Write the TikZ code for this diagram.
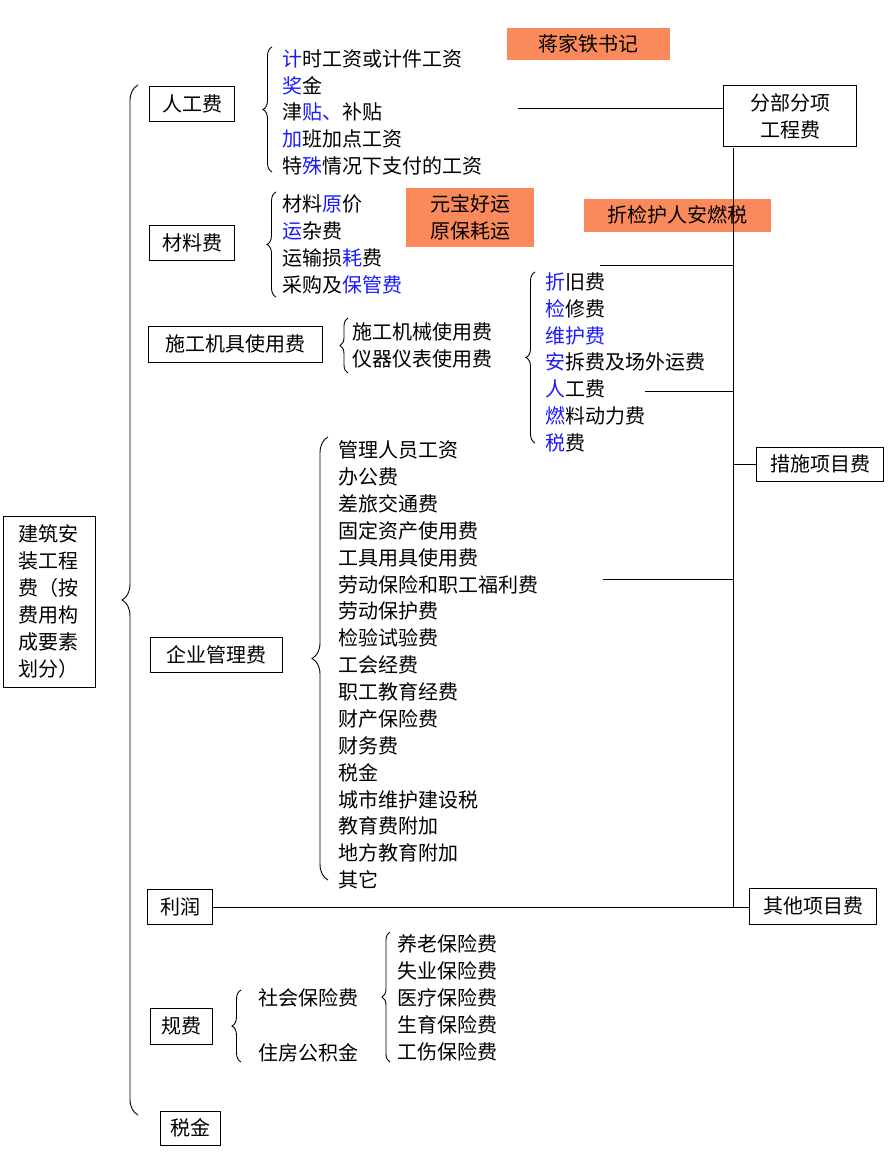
\documentclass[tikz,border=0pt]{standalone}
\usepackage{fontspec}
\setmainfont{Noto Sans CJK SC}
\usetikzlibrary{decorations.pathreplacing}
\definecolor{org}{HTML}{FA8A5C}
\definecolor{bl}{HTML}{1A1AFF}
\newcommand{\B}[1]{\textcolor{bl}{#1}}
\tikzset{
 box/.style={draw,line width=0.9pt,inner sep=3pt,font=\fontsize{20}{25}\selectfont,align=center},
 obox/.style={fill=org,inner sep=3pt,font=\fontsize{20}{25}\selectfont,align=center},
 item/.style={anchor=west,inner sep=0pt,font=\fontsize{20}{24}\selectfont},
 brc/.style={decorate,decoration={brace,amplitude=#1},line width=0.9pt},
 ln/.style={line width=0.9pt}
}
\begin{document}
\begin{tikzpicture}[x=1pt,y=-1pt]
\useasboundingbox (0,0) rectangle (891,1154);
% root
\node[box,minimum width=92,minimum height=171,font=\fontsize{20}{27}\selectfont] (root) at (49,602) {建筑安\\装工程\\费（按\\费用构\\成要素\\划分）};
\draw[brc=16] (138,1115) -- (138,85);
% level 1
\node[box,minimum width=85,minimum height=35] (rg) at (192,104) {人工费};
\node[box,minimum width=85,minimum height=35] (cl) at (192,243) {材料费};
\node[box,minimum width=174,minimum height=36] (jj) at (235,344) {施工机具使用费};
\node[box,minimum width=132,minimum height=35] (qy) at (216,655) {企业管理费};
\node[box,minimum width=65,minimum height=35] (lr) at (180,907) {利润};
\node[box,minimum width=62,minimum height=36] (gf) at (181,1026) {规费};
\node[box,minimum width=60,minimum height=34] (sj) at (190,1128) {税金};
% 人工费
\draw[brc=9] (272,172) -- (272,47);
\foreach \t [count=\i from 0] in {\B{计}时工资或计件工资,\B{奖}金,津\B{贴、}补贴,\B{加}班加点工资,特\B{殊}情况下支付的工资}
  \node[item] (rg\i) at (282,{59+26.7*\i}) {\t};
% 材料费
\draw[brc=9] (276,297) -- (276,192);
\foreach \t [count=\i from 0] in {材料\B{原}价,\B{运}杂费,运输损\B{耗}费,采购及\B{保管费}}
  \node[item] (cl\i) at (282,{204+27*\i}) {\t};
% 施工机具
\draw[brc=8] (348,373) -- (348,318);
\node[item] (jj0) at (352,332) {施工机械使用费};
\node[item] (jj1) at (352,359) {仪器仪表使用费};
\draw[brc=9] (535,443) -- (535,272);
\foreach \t [count=\i from 0] in {\B{折}旧费,\B{检}修费,\B{维护费},\B{安}拆费及场外运费,\B{人}工费,\B{燃}料动力费,\B{税}费}
  \node[item] (sb\i) at (545,{282+26.8*\i}) {\t};
% 企业管理费
\draw[brc=16] (328,880) -- (328,437);
\foreach \t [count=\i from 0] in {管理人员工资,办公费,差旅交通费,固定资产使用费,工具用具使用费,劳动保险和职工福利费,劳动保护费,检验试验费,工会经费,职工教育经费,财产保险费,财务费,税金,城市维护建设税,教育费附加,地方教育附加,其它}
  \node[item] (qy\i) at (338,{450+26.875*\i}) {\t};
% 规费
\draw[brc=9] (241,1062) -- (241,990);
\node[item] (sb) at (258,998) {社会保险费};
\node[item] (zf) at (258,1053) {住房公积金};
\draw[brc=8] (390,1062) -- (390,932);
\foreach \t [count=\i from 0] in {养老保险费,失业保险费,医疗保险费,生育保险费,工伤保险费}
  \node[item] (bx\i) at (397,{944+27*\i}) {\t};
% orange notes
\node[obox,minimum width=163,minimum height=32] (n1) at (588,44) {蒋家铁书记};
\node[obox,minimum width=128,minimum height=59,font=\fontsize{20}{27}\selectfont] (n2) at (470,217) {元宝好运\\原保耗运};
\node[obox,minimum width=187,minimum height=33] (n3) at (677,215) {折检护人安燃税};
% right boxes
\node[box,minimum width=133,minimum height=61,font=\fontsize{20}{27}\selectfont] (fb) at (790,116) {分部分项\\工程费};
\node[box,minimum width=127,minimum height=34] (cs) at (820,464) {措施项目费};
\node[box,minimum width=127,minimum height=36] (qt) at (813,906) {其他项目费};
% connectors
\coordinate (vt) at (733,148);
\coordinate (vb) at (733,908);
\draw[ln] (vt) -- (vb);
\coordinate (a1) at (518,108);
\draw[ln] (a1) -- (fb.west |- a1);
\coordinate (a2) at (600,265);
\draw[ln] (a2) -- (733,265);
\coordinate (a3) at (645,391);
\draw[ln] (a3) -- (733,391);
\coordinate (a4) at (603,579);
\draw[ln] (a4) -- (733,579);
\draw[ln] (733,464) -- (cs.west);
\draw[ln] (lr.east) -- (qt.west |- lr.east);
\end{tikzpicture}
\end{document}
